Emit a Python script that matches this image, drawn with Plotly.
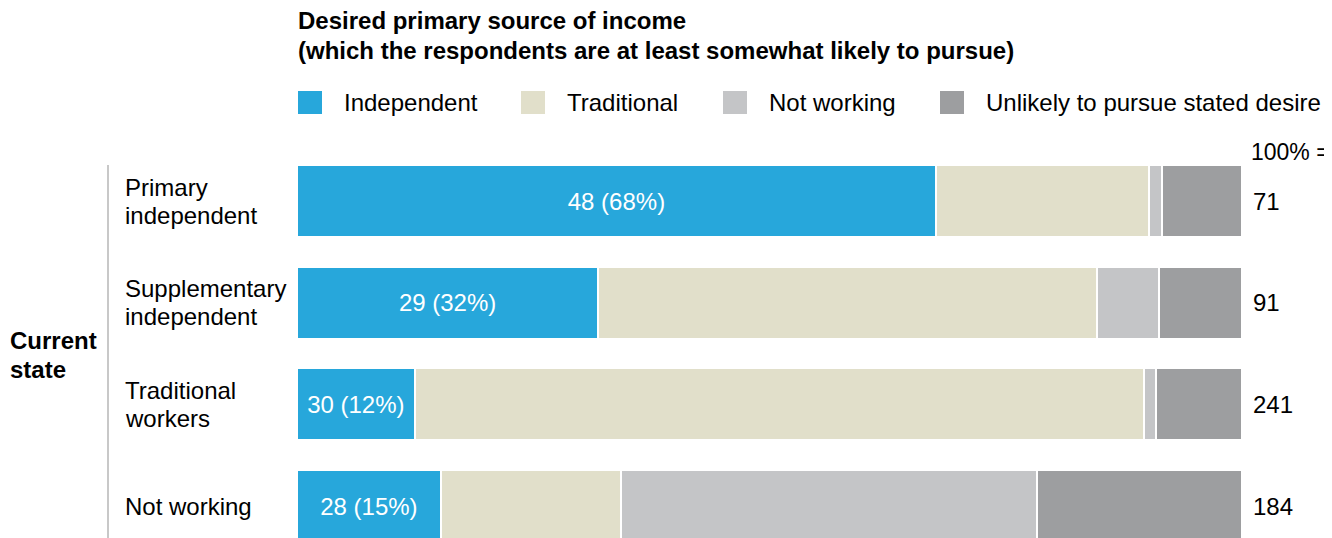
import plotly.graph_objects as go

# ---- data ----
categories = ["Primary<br>independent", "Supplementary<br>independent", "Traditional<br>workers", "Not working"]
series_names = ["Independent", "Traditional", "Not working", "Unlikely to pursue stated desire"]
independent = [48, 29, 30, 28]
traditional = [16, 48, 186, 35]
not_working = [1, 6, 3, 81]
unlikely = [6, 8, 22, 40]
totals = [71, 91, 241, 184]
colors = ["#27A7DB", "#E1DFCA", "#C4C5C7", "#9D9EA0"]

FONT = "Liberation Sans, Arial, sans-serif"
FS = 24
OFF = 8  # page body margin

series = [independent, traditional, not_working, unlikely]
pcts = [[v / t * 100 for v, t in zip(s, totals)] for s in series]
ind_pct_round = [round(p) for p in pcts[0]]

fig = go.Figure()
for i, (name, p) in enumerate(zip(series_names, pcts)):
    kw = {}
    if i == 0:
        kw = dict(
            text=[f"{n} ({r}%)" for n, r in zip(independent, ind_pct_round)],
            textposition="inside",
            insidetextanchor="middle",
            textfont=dict(color="white", size=FS, family=FONT),
            textangle=0,
        )
    fig.add_trace(go.Bar(
        y=categories, x=p, name=name, orientation="h",
        marker=dict(color=colors[i], line=dict(color="white", width=2)),
        width=0.71, showlegend=False, hoverinfo="skip", **kw))

W, H = 1332 - OFF, 538 - OFF
# plot area in window pixels
PX0, PX1, PY0, PY1 = 297, 1242, 150, 538
L, R, T, B = PX0 - OFF, W - (PX1 - OFF), PY0 - OFF, 0
pw, ph = PX1 - PX0, (H - B) - T


def px_x(x):
    return (x - PX0) / pw


def px_y(y):
    return ((H - B) - (y - OFF)) / ph


ann = []


def multiline(text, x, y, yref, bold=False, spacing=28, size=FS, color="#000"):
    lines = text.split("<br>")
    n = len(lines)
    for k, ln in enumerate(lines):
        t = f"<b>{ln}</b>" if bold else ln
        ann.append(dict(x=x, xref="paper", y=y, yref=yref, text=t, showarrow=False,
                        xanchor="left", yanchor="middle", align="left",
                        yshift=((n - 1) / 2 - k) * spacing,
                        font=dict(size=size, family=FONT, color=color)))


# row labels & totals
for c, t in zip(categories, totals):
    multiline(c, px_x(123), c, "y", spacing=28)
    ann.append(dict(x=px_x(1251), xref="paper", y=c, yref="y", text=str(t), showarrow=False,
                    xanchor="left", yanchor="middle",
                    font=dict(size=FS, family=FONT, color="#000")))
ann.append(dict(x=px_x(1249), xref="paper", y=px_y(152), yref="paper", text="100% =",
                showarrow=False, xanchor="left", yanchor="middle",
                font=dict(size=23, family=FONT, color="#000")))
multiline("Current<br>state", px_x(8), px_y(355), "paper", bold=True, spacing=29)
multiline("Desired primary source of income<br>(which the respondents are at least somewhat likely to pursue)",
          px_x(296), px_y(36), "paper", bold=True, spacing=30)

shapes = [dict(type="line", xref="paper", yref="paper", x0=px_x(108), x1=px_x(108),
               y0=0, y1=px_y(165), line=dict(color="#C8C8C8", width=2))]

# custom legend
leg_sq_x = [298, 521, 723, 940]
for name, col, sx in zip(series_names, colors, leg_sq_x):
    shapes.append(dict(type="rect", xref="paper", yref="paper",
                       x0=px_x(sx), x1=px_x(sx + 24), y0=px_y(114), y1=px_y(91),
                       fillcolor=col, line=dict(width=0)))
    ann.append(dict(x=px_x(sx + 44), xref="paper", y=px_y(102.5), yref="paper", text=name,
                    showarrow=False, xanchor="left", yanchor="middle",
                    font=dict(size=FS, family=FONT, color="#000")))

# y range: row centers at window px 201 and 506
y_top, y_bot = PY0, PY1
r0 = (y_top - 201) / ((506 - 201) / 3)
r1 = (y_bot - 201) / ((506 - 201) / 3)

fig.update_layout(
    barmode="stack", width=W, height=H,
    margin=dict(l=L, r=R, t=T, b=B, pad=0),
    plot_bgcolor="white", paper_bgcolor="white",
    xaxis=dict(range=[0, 100], visible=False, fixedrange=True),
    yaxis=dict(range=[r1, r0], visible=False, fixedrange=True),
    annotations=ann, shapes=shapes,
    font=dict(family=FONT, size=FS, color="#000"),
)

fig.write_html("out.html")
